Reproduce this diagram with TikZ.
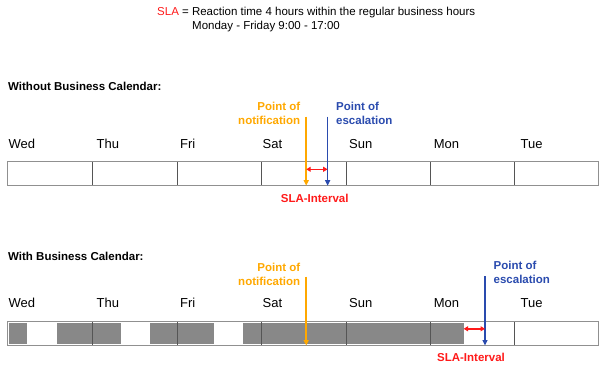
\documentclass[tikz,border=0pt]{standalone}
\usepackage{fontspec}
\setmainfont{Liberation Sans}
\usetikzlibrary{arrows.meta}
\definecolor{sorange}{HTML}{FFA800}
\definecolor{sblue}{HTML}{2A4BAE}
\definecolor{sred}{HTML}{FF1A1A}
\definecolor{sborder}{HTML}{909090}
\definecolor{sgrid}{HTML}{555555}
\definecolor{sfill}{HTML}{888888}
\begin{document}
\begin{tikzpicture}[x=1pt,y=-1pt,
  daylbl/.style={anchor=base west, inner sep=0pt, font=\fontsize{13}{15}\selectfont},
  txt/.style={inner sep=0pt, font=\fontsize{11.5}{14}\selectfont},
  btxt/.style={inner sep=0pt, font=\fontsize{11.5}{14}\bfseries\selectfont},
  boxline/.style={draw=sborder, line width=1.1pt},
  gridline/.style={draw=sgrid, line width=0.8pt},
  busy/.style={fill=sfill, draw=none},
  notarrow/.style={draw=sorange, line width=1.6pt, -{Triangle[width=5pt,length=5.5pt]}},
  escarrow/.style={draw=sblue, line width=1.6pt, -{Triangle[width=5pt,length=5.5pt]}},
  slaarrow/.style={draw=sred, line width=1.5pt, {Triangle[width=5pt,length=4.5pt]}-{Triangle[width=5pt,length=4.5pt]}}
]
\useasboundingbox (0,0) rectangle (600,372);

% header
\node[txt, anchor=base west] (hdr1) at (157,15.8) {\textcolor{sred}{SLA} = Reaction time 4 hours within the regular business hours};
\node[txt, anchor=base west] (hdr2) at (192,29.1) {Monday - Friday 9:00 - 17:00};

% ---------- Without business calendar ----------
\node[btxt, anchor=base west] (t1) at (8,90) {Without Business Calendar:};

\foreach \d/\x [count=\i] in {Wed/8.4,Thu/96.4,Fri/180,Sat/262.5,Sun/349,Mon/433.6,Tue/520.5}
  \node[daylbl] (da\i) at (\x,148.5) {\d};

\foreach \x in {92.4,177,261.8,346,430.5,514.7}
  \draw[gridline] (\x,161.7) -- (\x,185.7);
\draw[boxline] (7.7,161.7) rectangle (598.5,185.7);

\node[btxt, anchor=base east, text=sorange] (na1) at (300.4,110) {Point of};
\node[btxt, anchor=base east, text=sorange] (nb1) at (300.4,124) {notification};
\node[btxt, anchor=base west, text=sblue] (ea1) at (336,110) {Point of};
\node[btxt, anchor=base west, text=sblue] (eb1) at (336,124) {escalation};

\coordinate (ntop1) at (306.2,116.7);
\coordinate (nbot1) at (306.2,185.7);
\coordinate (etop1) at (327.6,116.7);
\coordinate (ebot1) at (327.6,185.7);
\coordinate (sl1) at (306.2,169.3);
\coordinate (sr1) at (327.6,169.3);
\draw[notarrow] (ntop1) -- (nbot1);
\draw[escarrow] (etop1) -- (ebot1);
\draw[slaarrow] (sl1) -- (sr1);
\node[btxt, anchor=base, text=sred] (si1) at (314.7,202.6) {SLA-Interval};

% ---------- With business calendar ----------
\node[btxt, anchor=base west] (t2) at (8,260) {With Business Calendar:};

\foreach \d/\x [count=\i] in {Wed/8.4,Thu/96.4,Fri/180,Sat/262.5,Sun/349,Mon/433.6,Tue/520.5}
  \node[daylbl] (db\i) at (\x,307.7) {\d};

\foreach \a/\b in {9/27.4,56.7/120.8,150/213.5,242.6/463.6}
  \fill[busy] (\a,323.3) rectangle (\b,344.3);

\foreach \x in {92.4,177,261.8,346,430.5,514.7}
  \draw[gridline] (\x,321.7) -- (\x,345.5);
\draw[boxline] (7.7,321.7) rectangle (598.5,345.5);

\node[btxt, anchor=base east, text=sorange] (na2) at (300.4,271.8) {Point of};
\node[btxt, anchor=base east, text=sorange] (nb2) at (300.4,285.8) {notification};
\node[btxt, anchor=base west, text=sblue] (ea2) at (493.5,269) {Point of};
\node[btxt, anchor=base west, text=sblue] (eb2) at (493.5,283) {escalation};

\coordinate (ntop2) at (306.2,276.7);
\coordinate (nbot2) at (306.2,345.5);
\coordinate (etop2) at (485,276.2);
\coordinate (ebot2) at (485,345.5);
\coordinate (sl2) at (463.6,328.8);
\coordinate (sr2) at (485,328.8);
\draw[notarrow] (ntop2) -- (nbot2);
\draw[escarrow] (etop2) -- (ebot2);
\draw[slaarrow] (sl2) -- (sr2);
\node[btxt, anchor=base, text=sred] (si2) at (471,361) {SLA-Interval};
\end{tikzpicture}
\end{document}
